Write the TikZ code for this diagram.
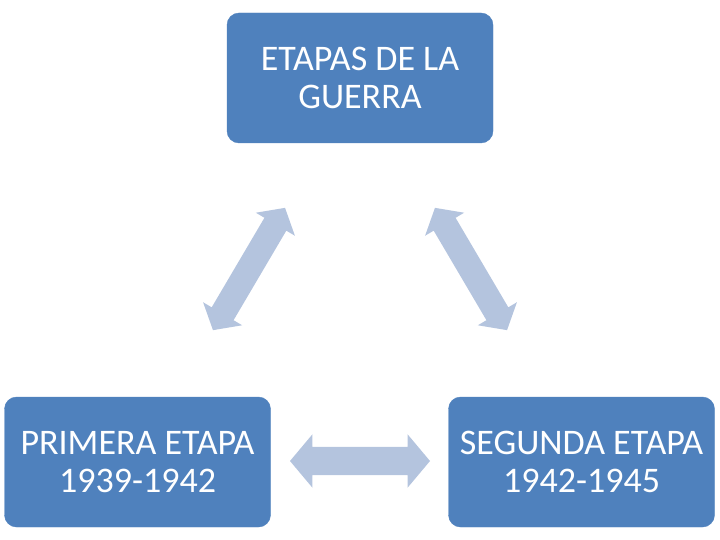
\documentclass[tikz,border=0pt]{standalone}
\usepackage{fontspec}
\setmainfont{Carlito}
\usetikzlibrary{shapes.arrows}
\definecolor{boxblue}{RGB}{79,129,189}
\definecolor{arrowblue}{RGB}{180,196,222}
\begin{document}
\begin{tikzpicture}[x=1pt,y=-1pt,
  stagebox/.style={draw=boxblue, fill=boxblue, rounded corners=12pt, minimum width=266pt, minimum height=130pt,
    text=white, align=center, inner sep=0pt, font=\fontsize{36}{38}\selectfont},
  blockarrow/.style={double arrow, fill=arrowblue, draw=none, inner xsep=0pt, inner ysep=14pt,
    double arrow head extend=12.5pt, double arrow tip angle=100}]
\useasboundingbox (0,0) rectangle (720,540);
\node[stagebox] (top) at (360,78) {ETAPAS DE LA\\GUERRA};
\node[stagebox] (left) at (137.5,462) {PRIMERA ETAPA\\1939-1942};
\node[stagebox] (right) at (581.5,462) {SEGUNDA ETAPA\\1942-1945};
\node[blockarrow, minimum height=140pt] (h) at (360,461) {};
\node[blockarrow, minimum height=142pt, inner ysep=12.5pt, double arrow head extend=10pt, rotate=59.5] (dl) at (249,269) {};
\node[blockarrow, minimum height=142pt, inner ysep=12.5pt, double arrow head extend=10pt, rotate=-59.5] (dr) at (471,269) {};
\end{tikzpicture}
\end{document}
